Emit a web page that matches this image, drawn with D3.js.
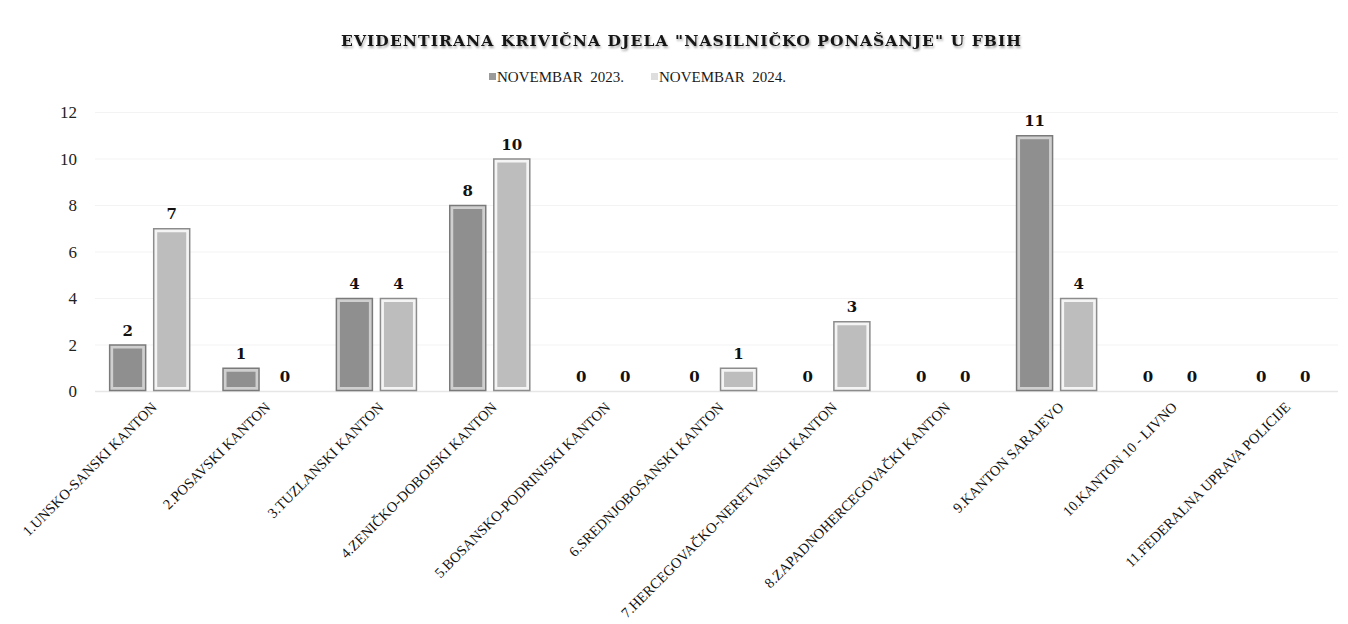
<!DOCTYPE html>
<meta charset="utf-8">
<style>
body { margin: 0; background: #fff; }
</style>
<body>
<div id="chart"></div>
<script src="https://d3js.org/d3.v7.min.js"></script>
<script>

var width = 1348,
    height = 624;

// data
var categories = [
  "1.UNSKO-SANSKI KANTON",
  "2.POSAVSKI KANTON",
  "3.TUZLANSKI KANTON",
  "4.ZENIČKO-DOBOJSKI KANTON",
  "5.BOSANSKO-PODRINJSKI KANTON",
  "6.SREDNJOBOSANSKI KANTON",
  "7.HERCEGOVAČKO-NERETVANSKI KANTON",
  "8.ZAPADNOHERCEGOVAČKI KANTON",
  "9.KANTON SARAJEVO",
  "10.KANTON 10 - LIVNO",
  "11.FEDERALNA UPRAVA POLICIJE"
];
var seriesNames = ["NOVEMBAR  2023.", "NOVEMBAR  2024."];
var nov2023 = [2, 1, 4, 8, 0, 0, 0, 0, 11, 0, 0];
var nov2024 = [7, 0, 4, 10, 0, 1, 3, 0, 4, 0, 0];
var yTicks = [0, 2, 4, 6, 8, 10, 12];

var title = 'EVIDENTIRANA KRIVIČNA DJELA "NASILNIČKO PONAŠANJE" U FBIH';

var rows = categories.map(function(c, i) {
  return {cat: c, values: [nov2023[i], nov2024[i]]};
});

var serif = "'Liberation Serif', serif";
var boldSerif = "'DejaVu Serif', serif";

// styles per series: border, rim, fill
var styles = [
  {border: "#7a7a7a", rim: "#cfcfcf", fill: "#8f8f8f", key: "#9a9a9a"},
  {border: "#8c8c8c", rim: "#f4f4f4", fill: "#bdbdbd", key: "#dedede"}
];

var svg = d3.select("#chart").append("svg")
    .attr("width", width)
    .attr("height", height);

var defs = svg.append("defs");
var sh = defs.append("filter").attr("id", "tshadow")
    .attr("x", "-5%").attr("y", "-30%").attr("width", "110%").attr("height", "160%");
sh.append("feDropShadow").attr("dx", 1).attr("dy", 2).attr("stdDeviation", 1.3)
    .attr("flood-color", "#000").attr("flood-opacity", 0.35);
var lsh = defs.append("filter").attr("id", "lshadow")
    .attr("x", "0").attr("y", "-200%").attr("width", "100%").attr("height", "500%");
lsh.append("feDropShadow").attr("dx", 0).attr("dy", 1).attr("stdDeviation", 1)
    .attr("flood-color", "#000").attr("flood-opacity", 0.2);

// top border of chart area
svg.append("line")
    .attr("x1", 13).attr("x2", width).attr("y1", 11.5).attr("y2", 11.5)
    .attr("stroke", "#d4d4d4").attr("stroke-width", 1.5)
    .attr("filter", "url(#lshadow)");

// title
svg.append("text")
    .attr("x", 681).attr("y", 46)
    .attr("text-anchor", "middle")
    .style("font-family", boldSerif)
    .style("font-size", "15.5px").style("font-weight", "bold")
    .attr("fill", "#151515")
    .attr("textLength", 680).attr("lengthAdjust", "spacing")
    .attr("filter", "url(#tshadow)")
    .text(title);

// legend
var legendPos = [489, 651];
var legend = svg.selectAll(".legend-item")
  .data(seriesNames)
  .enter().append("g")
    .attr("class", "legend-item")
    .attr("transform", function(d, i) { return "translate(" + legendPos[i] + ",0)"; });
legend.append("rect")
    .attr("x", 0).attr("y", 73).attr("width", 7).attr("height", 7)
    .attr("fill", function(d, i) { return styles[i].key; });
legend.append("text")
    .attr("x", 8).attr("y", 82)
    .style("font-family", serif).style("font-size", "15px")
    .attr("fill", "#1a1a1a")
    .style("white-space", "pre")
    .text(function(d) { return d; });

// scales
var x0 = d3.scaleBand()
    .domain(categories)
    .range([93, 1340])
    .paddingInner(0.285)
    .paddingOuter(0.1425);
var x1 = d3.scaleBand()
    .domain([0, 1])
    .range([0, x0.bandwidth()])
    .paddingInner(0.16);
var y = d3.scaleLinear()
    .domain([0, 12])
    .range([391, 112]);

// gridlines
svg.append("g").selectAll("line")
  .data(yTicks)
  .enter().append("line")
    .attr("x1", 95).attr("x2", 1338)
    .attr("y1", function(d) { return y(d) + 0.5; })
    .attr("y2", function(d) { return y(d) + 0.5; })
    .attr("stroke", function(d) { return d === 0 ? "#e6e6e6" : "#f3f3f3"; })
    .attr("stroke-width", function(d) { return d === 0 ? 1.5 : 1; });

// y axis labels
var yAxis = d3.axisLeft(y).tickValues(yTicks).tickSize(0).tickPadding(0);
var ya = svg.append("g")
    .attr("transform", "translate(77,0)")
    .call(yAxis);
ya.select(".domain").remove();
ya.selectAll("text")
    .style("font-family", serif).style("font-size", "17px")
    .attr("fill", "#222")
    .attr("dy", "0.35em");

// bars
var groups = svg.selectAll(".group")
  .data(rows)
  .enter().append("g")
    .attr("class", "group")
    .attr("transform", function(d) { return "translate(" + x0(d.cat) + ",0)"; });

var bars = groups.selectAll(".bar")
  .data(function(d) { return d.values.map(function(v, i) { return {i: i, v: v}; }); })
  .enter().append("g")
    .attr("class", "bar");

bars.filter(function(d) { return d.v > 0; }).append("rect")
    .attr("x", function(d) { return x1(d.i) + 0.5; })
    .attr("y", function(d) { return y(d.v) + 0.5; })
    .attr("width", x1.bandwidth() - 1)
    .attr("height", function(d) { return y(0) - y(d.v) - 1; })
    .attr("fill", function(d) { return styles[d.i].rim; })
    .attr("stroke", function(d) { return styles[d.i].border; })
    .attr("stroke-width", 1.5);

bars.filter(function(d) { return d.v > 0; }).append("rect")
    .attr("x", function(d) { return x1(d.i) + 4; })
    .attr("y", function(d) { return y(d.v) + 4; })
    .attr("width", x1.bandwidth() - 8)
    .attr("height", function(d) { return Math.max(0, y(0) - y(d.v) - 8); })
    .attr("fill", function(d) { return styles[d.i].fill; });

// value labels
bars.append("text")
    .attr("x", function(d) { return x1(d.i) + x1.bandwidth() / 2; })
    .attr("y", function(d) { return y(d.v) - 9; })
    .attr("text-anchor", "middle")
    .style("font-family", boldSerif)
    .style("font-size", "15px").style("font-weight", "bold")
    .attr("fill", "#111")
    .text(function(d) { return d.v; });

// x labels
var xAxis = d3.axisBottom(x0).tickSize(0).tickPadding(0);
var xa = svg.append("g")
    .attr("transform", "translate(0,391)")
    .call(xAxis);
xa.select(".domain").remove();
xa.selectAll("text")
    .style("font-family", serif).style("font-size", "14.5px")
    .attr("fill", "#111")
    .attr("text-anchor", "end")
    .attr("dy", 0).attr("y", 0)
    .attr("transform", "translate(8,17) rotate(-45)");

</script>
</body>
